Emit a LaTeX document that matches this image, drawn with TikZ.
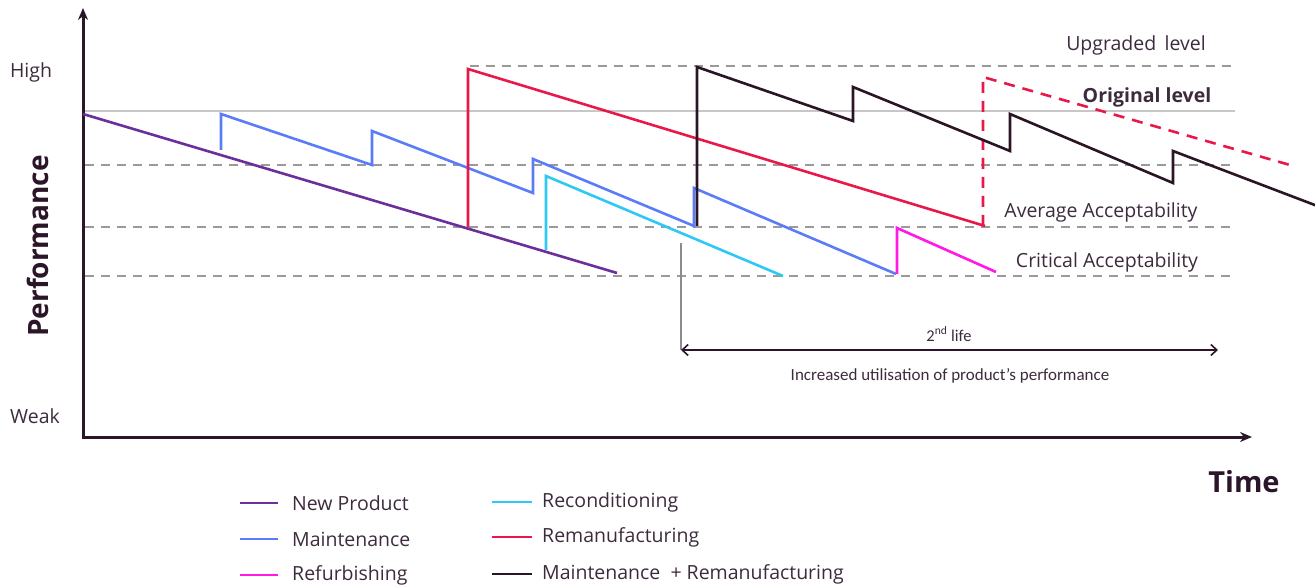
\documentclass[tikz,border=0pt]{standalone}
\usepackage{fontspec}
\setmainfont{Open Sans}
\newfontfamily\smallfam{Carlito}
\usetikzlibrary{arrows.meta}
\definecolor{txt}{HTML}{3D2B3D}
\definecolor{axis}{HTML}{2A1628}
\definecolor{newp}{HTML}{6A2F9A}
\definecolor{maint}{HTML}{5A7CF8}
\definecolor{refurb}{HTML}{FF1AE6}
\definecolor{recon}{HTML}{2EC8F5}
\definecolor{reman}{HTML}{E8194A}
\definecolor{mr}{HTML}{2A1525}
\definecolor{gridgray}{HTML}{9A9A9A}
\begin{document}
\begin{tikzpicture}[x=1pt,y=-1pt,
  lbl/.style={text=txt,font=\fontsize{19.5}{22}\selectfont,inner sep=0pt},
  curve/.style={line width=2.6pt,line join=miter},
  guide/.style={draw=gridgray,line width=1.8pt,dash pattern=on 9pt off 7pt},
  legline/.style={line width=2.6pt}]
\useasboundingbox (0,0) rectangle (1315,588);
% guide lines
\draw[draw=black!22,line width=1.8pt] (83,111) -- (1235,111);
\draw[guide] (470,66) -- (1235,66);
\draw[guide] (85,165) -- (1232,165);
\draw[guide] (85,227) -- (1232,227);
\draw[guide] (85,276) -- (1232,276);
% axes
\draw[axis,line width=3pt,-{Stealth[length=12pt,width=10pt]}] (83,437) -- (83,8);
\draw[axis,line width=3pt,-{Stealth[length=12pt,width=10pt]}] (82,437) -- (1252,437);
% curves
\draw[curve,newp] (83,114) -- (617,273);
\draw[curve,maint] (221,150) -- (221,114) -- (372,165) -- (372,131) -- (533,193) -- (533,159) -- (694,226) -- (694,188) -- (896,274);
\draw[curve,recon] (546,250) -- (546,176) -- (783,276);
\draw[curve,reman] (468,227) -- (468,69) -- (985,226);
\draw[curve,reman,dash pattern=on 11pt off 8pt] (983,226) -- (983,77) -- (1290,165);
\draw[curve,mr] (697,226) -- (697,67) -- (853,121) -- (853,87) -- (1010,151) -- (1010,114) -- (1173,183) -- (1173,151) -- (1320,207);
\draw[curve,refurb] (897,274) -- (897,228) -- (996,272);
% axis labels
\node[lbl] (high) at (31,72) {High};
\node[lbl] (weak) at (35,416) {Weak};
\node[text=axis,font=\fontsize{28}{32}\selectfont\bfseries,rotate=90,inner sep=0pt] (perf) at (38,246) {Performance};
\node[text=axis,font=\fontsize{29}{32}\selectfont\bfseries,inner sep=0pt] (time) at (1244,482) {Time};
% level labels
\node[lbl] (upg) at (1136,45) {Upgraded\, level};
\node[lbl,font=\fontsize{19.5}{22}\selectfont\bfseries] (orig) at (1147,97) {Original level};
\node[lbl] (avg) at (1101,212) {Average Acceptability};
\node[lbl] (crit) at (1107,262) {Critical Acceptability};
% second life
\coordinate (sl0) at (681,243);
\coordinate (sl1) at (681,350);
\coordinate (sl2) at (1218,350);
\draw[draw=black!45,line width=1.2pt] (sl0) -- (sl1);
\draw[axis,line width=1.6pt,{Straight Barb[length=6pt,width=11pt]}-{Straight Barb[length=6pt,width=11pt]}] (sl1) -- (sl2);
\node[lbl,font=\smallfam\fontsize{16.5}{18}\selectfont] (life) at (949,334) {2\textsuperscript{nd} life};
\node[lbl,font=\smallfam\fontsize{17}{19}\selectfont] (incr) at (950,376) {Increased utilisation of product’s performance};
% legend
\coordinate (l1a) at (240,503); \coordinate (l1b) at (278,503);
\coordinate (l2a) at (240,539); \coordinate (l2b) at (278,539);
\coordinate (l3a) at (240,575); \coordinate (l3b) at (278,575);
\coordinate (r1a) at (492,502); \coordinate (r1b) at (532,502);
\coordinate (r2a) at (492,537); \coordinate (r2b) at (532,537);
\coordinate (r3a) at (492,574); \coordinate (r3b) at (532,574);
\draw[legline,newp] (l1a) -- (l1b);
\draw[legline,maint] (l2a) -- (l2b);
\draw[legline,refurb] (l3a) -- (l3b);
\draw[legline,recon] (r1a) -- (r1b);
\draw[legline,reman] (r2a) -- (r2b);
\draw[legline,mr] (r3a) -- (r3b);
\node[lbl,anchor=west] (t1) at (292,503) {New Product};
\node[lbl,anchor=west] (t2) at (292,539) {Maintenance};
\node[lbl,anchor=west] (t3) at (292,575) {Refurbishing};
\node[lbl,anchor=west] (t4) at (542,502) {Reconditioning};
\node[lbl,anchor=west] (t5) at (542,537) {Remanufacturing};
\node[lbl,anchor=west] (t6) at (542,574) {Maintenance\ \ + Remanufacturing};
\end{tikzpicture}
\end{document}
